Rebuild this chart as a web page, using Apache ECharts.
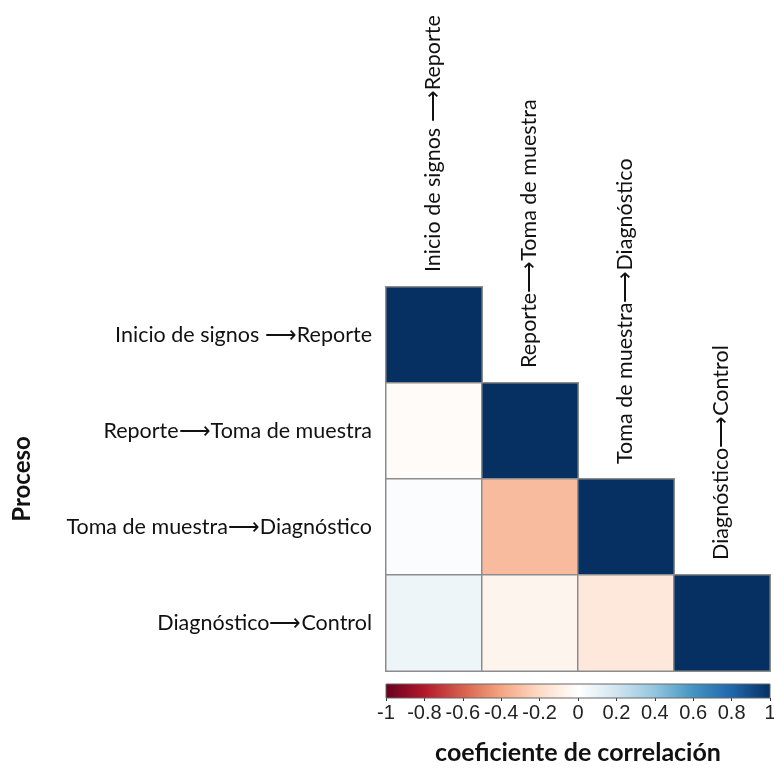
<!DOCTYPE html>
<html>
<head>
<meta charset="utf-8">
<script src="https://cdn.jsdelivr.net/npm/echarts@6/dist/echarts.min.js"></script>
<style>
html, body { margin: 0; padding: 0; background: #fff; }
#main { width: 774px; height: 769px; }
</style>
</head>
<body>
<div id="main"></div>
<script>
var procesos = ['Inicio de signos ⟶Reporte', 'Reporte⟶Toma de muestra', 'Toma de muestra⟶Diagnóstico', 'Diagnóstico⟶Control'];
// lower triangle of the correlation matrix, one row per proceso
var corrRows = [
    [1],
    [-0.02, 1],
    [0.02, -0.32, 1],
    [0.08, -0.06, -0.13, 1]
];
var escalaTicks = [-1, -0.8, -0.6, -0.4, -0.2, 0, 0.2, 0.4, 0.6, 0.8, 1];
var rdbu = ['#67001F', '#B2182B', '#D6604D', '#F4A582', '#FDDBC7', '#FFFFFF', '#D1E5F0', '#92C5DE', '#4393C3', '#2166AC', '#053061'];

var labelFont = 'Lato, "Open Sans", sans-serif';

function heatData() {
    var out = [];
    corrRows.forEach(function (row, r) {
        row.forEach(function (v, c) {
            out.push([c, r, v]);
        });
    });
    return out;
}

function initCorrChart() {
    var chart = echarts.init(document.getElementById('main'));
    var option = {
        animation: false,
        grid: [{
            left: 386, top: 287, width: 384, height: 384,
            outerBoundsMode: 'none'
        }, {
            left: 386, top: 684, width: 384, height: 14,
            outerBoundsMode: 'none'
        }],
        visualMap: {
            show: false,
            min: -1,
            max: 1,
            seriesIndex: 0,
            inRange: { color: rdbu }
        },
        xAxis: [{
            gridIndex: 0,
            type: 'category',
            data: procesos,
            axisLine: { show: false },
            axisTick: { show: false },
            axisLabel: { show: false },
            splitLine: { show: false }
        }, {
            gridIndex: 1,
            type: 'value',
            min: -1,
            max: 1,
            interval: 0.2,
            axisLine: { show: false },
            axisTick: { show: true, length: 3, lineStyle: { color: '#333' } },
            splitLine: { show: false },
            axisLabel: {
                margin: 5,
                fontSize: 20,
                fontFamily: 'Liberation Sans, Arial, sans-serif',
                color: '#222',
                formatter: function (v) { return String(Math.round(v * 10) / 10); }
            },
            name: 'coeficiente de correlación',
            nameLocation: 'middle',
            nameGap: 42,
            nameTextStyle: {
                fontSize: 25,
                fontWeight: 'bold',
                fontFamily: labelFont,
                color: '#111'
            }
        }],
        yAxis: [{
            gridIndex: 0,
            type: 'category',
            data: procesos,
            inverse: true,
            axisLine: { show: false },
            axisTick: { show: false },
            splitLine: { show: false },
            axisLabel: {
                margin: 14,
                fontSize: 21.5,
                fontFamily: labelFont,
                color: '#111'
            },
            name: 'Proceso',
            nameLocation: 'middle',
            nameGap: 352,
            nameTextStyle: {
                fontSize: 24,
                fontWeight: 'bold',
                fontFamily: labelFont,
                color: '#111'
            }
        }, {
            gridIndex: 1,
            type: 'value',
            min: 0,
            max: 1,
            show: false
        }],
        series: [{
            type: 'heatmap',
            xAxisIndex: 0,
            yAxisIndex: 0,
            data: heatData(),
            itemStyle: {
                borderColor: '#8c8c8c',
                borderWidth: 1.5
            },
            emphasis: { disabled: true }
        }, {
            // column names above the diagonal cells
            type: 'custom',
            xAxisIndex: 0,
            yAxisIndex: 0,
            silent: true,
            data: procesos.map(function (p, i) { return [i, i]; }),
            renderItem: function (params, api) {
                var pt = api.coord([api.value(0), api.value(1)]);
                var half = api.size([1, 1])[1] / 2;
                return {
                    type: 'text',
                    x: pt[0] - 1,
                    y: pt[1] - half - 15,
                    rotation: Math.PI / 2,
                    style: {
                        text: procesos[params.dataIndex],
                        fontSize: 21.5,
                        fontFamily: labelFont,
                        fill: '#111',
                        align: 'left',
                        verticalAlign: 'middle'
                    }
                };
            }
        }, {
            // colour bar
            type: 'custom',
            xAxisIndex: 1,
            yAxisIndex: 1,
            silent: true,
            data: [[escalaTicks[0], escalaTicks[escalaTicks.length - 1]]],
            renderItem: function (params, api) {
                var p0 = api.coord([api.value(0), 0]);
                var p1 = api.coord([api.value(1), 1]);
                var stops = rdbu.map(function (c, i) {
                    return { offset: i / (rdbu.length - 1), color: c };
                });
                return {
                    type: 'rect',
                    shape: { x: p0[0], y: p1[1], width: p1[0] - p0[0], height: p0[1] - p1[1] },
                    style: {
                        fill: new echarts.graphic.LinearGradient(0, 0, 1, 0, stops),
                        stroke: '#666',
                        lineWidth: 1
                    }
                };
            }
        }]
    };
    chart.setOption(option);
    return chart;
}

var corrChart = initCorrChart();
window.addEventListener('resize', function () {
    corrChart.resize();
});
</script>
</body>
</html>
